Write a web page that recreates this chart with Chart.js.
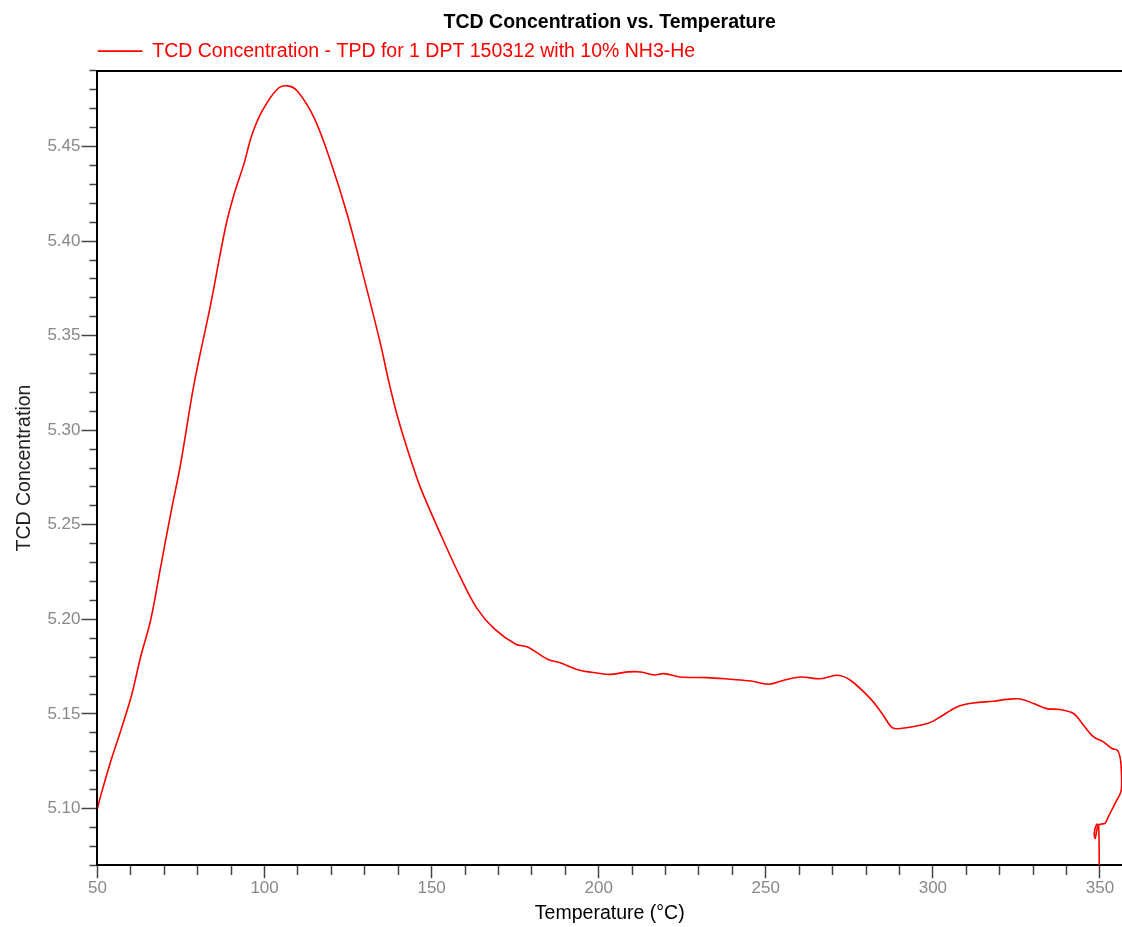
<!DOCTYPE html>
<html>
<head>
<meta charset="utf-8">
<title>TCD Concentration vs. Temperature</title>
<script src="https://cdn.jsdelivr.net/npm/chart.js@4.4.1/dist/chart.umd.min.js"></script>
<style>
  html, body { margin:0; padding:0; background:#fff; }
  #wrap { width:1122px; height:927px; position:relative; }
</style>
</head>
<body>
<div id="wrap"><canvas id="tpdChart"></canvas></div>
<script>
/* ========= Datos ========= */
// Temperatura (°C) — la curva vuelve hacia atrás al final (enfriamiento)
const temps = [
  50.0, 50.6, 53.6, 57.0, 60.2, 62.9, 65.9, 68.9, 71.9, 74.9,
  78.9, 83.9, 88.3, 90.9, 93.8, 96.3, 99.3, 103.8, 106.8, 109.8,
  114.8, 119.7, 124.7, 129.7, 134.7, 137.1, 139.7, 143.1, 146.6, 152.6,
  158.6, 163.6, 168.7, 175.2, 178.7, 184.7, 188.7, 193.7, 199.6, 203.6,
  208.6, 212.6, 216.6, 219.5, 224.5, 232.5, 239.5, 245.5, 250.9, 255.4,
  260.4, 266.4, 271.4, 275.3, 281.3, 284.8, 287.8, 290.3, 298.3, 302.2,
  307.2, 312.2, 318.2, 322.2, 326.2, 330.1, 334.1, 338.1, 342.1, 345.1,
  348.1, 351.0, 353.6, 355.2, 356.0, 356.4, 356.4, 354.5, 352.5, 351.5,
  350.1, 349.3, 348.6, 348.3, 349.1, 349.6, 349.8
];
// Concentración TCD
const conc = [
  5.1000, 5.1044, 5.1229, 5.1414, 5.1599, 5.1801, 5.1995, 5.2276, 5.2558, 5.2824,
  5.3245, 5.3668, 5.4072, 5.4249, 5.4407, 5.4566, 5.4689, 5.4803, 5.4821, 5.4794,
  5.4653, 5.4425, 5.4143, 5.3808, 5.3456, 5.3263, 5.3078, 5.2880, 5.2699, 5.2453,
  5.2223, 5.2057, 5.1951, 5.1868, 5.1854, 5.1789, 5.1769, 5.1734, 5.1716, 5.1709,
  5.1722, 5.1722, 5.1706, 5.1713, 5.1695, 5.1692, 5.1683, 5.1674, 5.1657, 5.1678,
  5.1695, 5.1686, 5.1704, 5.1678, 5.1581, 5.1502, 5.1428, 5.1423, 5.1449, 5.1484,
  5.1537, 5.1558, 5.1567, 5.1577, 5.1579, 5.1555, 5.1528, 5.1523, 5.1502, 5.1440,
  5.1378, 5.1352, 5.1317, 5.1308, 5.1273, 5.1202, 5.1097, 5.1026, 5.0956, 5.0921,
  5.0917, 5.0903, 5.0842, 5.0870, 5.0917, 5.0903, 5.0700
];

const xTickLabels = [50, 100, 150, 200, 250, 300, 350];
const yTickLabels = ['5.10', '5.15', '5.20', '5.25', '5.30', '5.35', '5.40', '5.45'];

const seriesLabel = 'TCD Concentration - TPD for 1 DPT 150312 with 10% NH3-He';
const FONT = "'Liberation Sans', Arial, sans-serif";

/* ========= Helpers de ticks ========= */
const isXMajor = v => Math.abs(v - Math.round(v)) < 1e-6 && xTickLabels.includes(Math.round(v));
const isYMajor = v => yTickLabels.includes(Number(v).toFixed(2));

/* ========= Chart ========= */
const points = temps.map((t, i) => ({ x: t, y: conc[i] }));

const ctx = document.getElementById('tpdChart').getContext('2d');
new Chart(ctx, {
  type: 'scatter',
  data: {
    datasets: [{
      label: seriesLabel,
      data: points,
      showLine: true,
      borderColor: '#ff0000',
      backgroundColor: '#ff0000',
      borderWidth: 1.6,
      pointRadius: 0,
      tension: 0.35
    }]
  },
  options: {
    responsive: true,
    maintainAspectRatio: false,
    animation: false,
    layout: { padding: 0 },
    plugins: {
      tooltip: { enabled: false },
      title: {
        display: true,
        text: 'TCD Concentration vs. Temperature',
        fullSize: false,
        color: '#000',
        font: { family: FONT, size: 19.5, weight: 'bold' },
        padding: { top: 11, bottom: 7 }
      },
      legend: {
        fullSize: false,
        align: 'start',
        labels: {
          color: '#ff0000',
          font: { family: FONT, size: 19.5 },
          boxWidth: 45,
          boxHeight: 0,
          padding: 0
        }
      }
    },
    scales: {
      x: {
        type: 'linear',
        min: 50,
        max: 356.6,
        border: { color: '#000', width: 2 },
        grid: {
          drawOnChartArea: false,
          tickLength: 13,
          tickColor: '#444',
          tickWidth: 1.5,
          tickBorderDash: c => (c.tick && isXMajor(c.tick.value)) ? [] : [9, 100]
        },
        ticks: {
          stepSize: 10,
          includeBounds: false,
          autoSkip: false,
          maxRotation: 0,
          padding: 0,
          color: '#888',
          font: { family: FONT, size: 17 },
          callback: v => isXMajor(v) ? String(Math.round(v)) : ''
        },
        title: {
          display: true,
          text: 'Temperature (°C)',
          color: '#000',
          font: { family: FONT, size: 19.5 },
          padding: { top: 3, bottom: 2 }
        }
      },
      xTop: {
        type: 'linear',
        position: 'top',
        min: 50,
        max: 356.6,
        border: { color: '#000', width: 2 },
        grid: { drawTicks: false, drawOnChartArea: false },
        ticks: { display: false }
      },
      y: {
        type: 'linear',
        min: 5.07,
        max: 5.49,
        border: { color: '#000', width: 2 },
        grid: {
          drawOnChartArea: false,
          tickLength: 16,
          tickColor: '#444',
          tickWidth: 1.5,
          tickBorderDash: c => (c.tick && isYMajor(c.tick.value)) ? [] : [0, 8, 100]
        },
        ticks: {
          stepSize: 0.01,
          autoSkip: false,
          padding: 1,
          color: '#888',
          font: { family: FONT, size: 17 },
          callback: v => isYMajor(v) ? Number(v).toFixed(2) : ''
        },
        title: {
          display: true,
          text: 'TCD Concentration',
          color: '#222',
          font: { family: FONT, size: 19.5 },
          padding: { top: 13, bottom: 10 }
        }
      }
    }
  }
});
</script>
</body>
</html>
